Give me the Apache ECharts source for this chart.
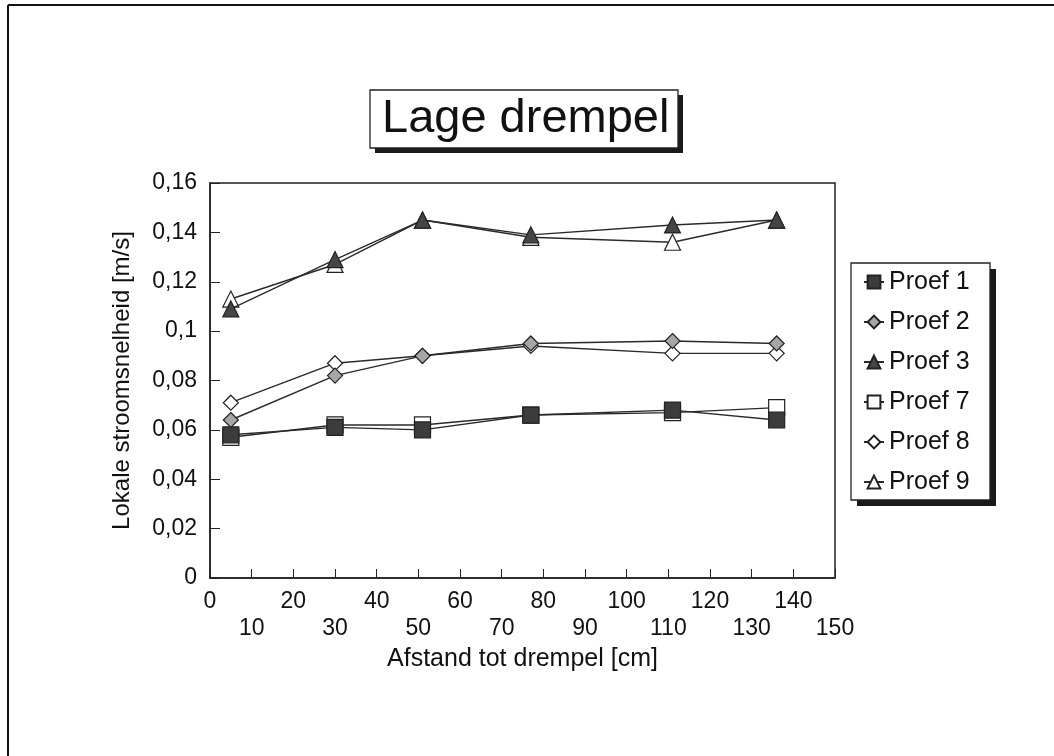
<!DOCTYPE html>
<html>
<head>
<meta charset="utf-8">
<title>Lage drempel</title>
<script src="https://cdn.jsdelivr.net/npm/echarts@6/dist/echarts.min.js"></script>
<style>
  html, body { margin: 0; padding: 0; background: #fff; }
  #chart { width: 1054px; height: 756px; }
</style>
</head>
<body>
<div id="chart"></div>
<script>
// afstand tot drempel [cm]
var afstand = [5, 30, 51, 77, 111, 136];
// lokale stroomsnelheid [m/s] per proef
var proef1 = [0.058, 0.061, 0.060, 0.066, 0.068, 0.064];
var proef2 = [0.064, 0.082, 0.090, 0.095, 0.096, 0.095];
var proef3 = [0.109, 0.129, 0.145, 0.139, 0.143, 0.145];
var proef7 = [0.057, 0.062, 0.062, 0.066, 0.067, 0.069];
var proef8 = [0.071, 0.087, 0.090, 0.094, 0.091, 0.091];
var proef9 = [0.113, 0.127, 0.145, 0.138, 0.136, 0.145];
var namen = ['Proef 1', 'Proef 2', 'Proef 3', 'Proef 7', 'Proef 8', 'Proef 9'];

var font = "'Liberation Sans', Arial, sans-serif";
var myChart = echarts.init(document.getElementById('chart'));

function paren(ys) {
    return afstand.map(function (x, i) { return [x, ys[i]]; });
}

function reeks(naam, ys, symbool, grootte, vul, z) {
    return {
        name: naam,
        type: 'line',
        data: paren(ys),
        symbol: symbool,
        symbolSize: grootte,
        z: z,
        lineStyle: { color: '#2a2a2a', width: 1.4 },
        itemStyle: { color: vul, borderColor: '#222', borderWidth: 1.2 },
        emphasis: { disabled: true }
    };
}

// kader met harde schaduw (titel en legenda)
function kader(x, y, b, h, d) {
    return [
        { type: 'rect', z: 1, shape: { x: x + d, y: y + d, width: b, height: h }, style: { fill: '#1a1a1a' } },
        { type: 'rect', z: 1, shape: { x: x, y: y, width: b, height: h }, style: { fill: '#fff', stroke: '#222', lineWidth: 1.3 } }
    ];
}

var option = {
    animation: false,
    backgroundColor: '#fff',
    textStyle: { fontFamily: font },
    title: {
        text: 'Lage drempel',
        left: 370,
        top: 90,
        padding: [4, 12, 4, 12],
        textStyle: { fontFamily: font, fontSize: 47, fontWeight: 'normal', color: '#111', lineHeight: 50 }
    },
    legend: {
        data: namen,
        orient: 'vertical',
        left: 851,
        top: 263,
        padding: [6, 17, 5, 12],
        itemGap: 14,
        itemWidth: 20,
        itemHeight: 16,
        textStyle: { fontFamily: font, fontSize: 25, color: '#111', lineHeight: 26 }
    },
    grid: {
        left: 210,
        right: 219,
        top: 183,
        bottom: 178,
        show: true,
        borderColor: '#222',
        borderWidth: 1.5
    },
    xAxis: {
        type: 'value',
        min: 0,
        max: 150,
        interval: 10,
        name: 'Afstand tot drempel [cm]',
        nameLocation: 'middle',
        nameGap: 66,
        nameTextStyle: { fontFamily: font, fontSize: 25, color: '#111' },
        axisLine: { lineStyle: { color: '#222', width: 1.5 } },
        axisTick: { inside: true, length: 9, lineStyle: { color: '#222' } },
        splitLine: { show: false },
        axisLabel: {
            margin: 10,
            fontFamily: font,
            fontSize: 23,
            lineHeight: 27,
            color: '#111',
            formatter: function (v) { return v % 20 === 0 ? String(v) : '\n' + v; }
        }
    },
    yAxis: {
        type: 'value',
        min: 0,
        max: 0.16,
        interval: 0.02,
        name: 'Lokale stroomsnelheid [m/s]',
        nameLocation: 'middle',
        nameGap: 76,
        nameTextStyle: { fontFamily: font, fontSize: 24, color: '#111' },
        axisLine: { show: true, lineStyle: { color: '#222', width: 1.5 } },
        axisTick: { show: true, inside: true, length: 10, lineStyle: { color: '#222' } },
        splitLine: { show: false },
        axisLabel: {
            margin: 13,
            fontFamily: font,
            fontSize: 23,
            color: '#111',
            formatter: function (v) { return String(parseFloat(v.toFixed(2))).replace('.', ','); }
        }
    },
    graphic: [
        // rand van de gescande pagina
        { type: 'line', shape: { x1: 8, y1: 5, x2: 1054, y2: 5 }, style: { stroke: '#111', lineWidth: 2 } },
        { type: 'line', shape: { x1: 8, y1: 5, x2: 8, y2: 756 }, style: { stroke: '#111', lineWidth: 2 } }
    ].concat(kader(370, 90, 308, 58, 5), kader(851, 263, 139, 237, 6)),
    series: [
        reeks('Proef 7', proef7, 'rect', 16, '#fff', 2),
        reeks('Proef 8', proef8, 'diamond', 15, '#fff', 2),
        reeks('Proef 9', proef9, 'triangle', 16, '#fff', 2),
        reeks('Proef 1', proef1, 'rect', 16, '#3c3c3c', 3),
        reeks('Proef 2', proef2, 'diamond', 15, '#a6a6a6', 3),
        reeks('Proef 3', proef3, 'triangle', 16, '#454545', 3)
    ]
};

myChart.setOption(option);
</script>
</body>
</html>
